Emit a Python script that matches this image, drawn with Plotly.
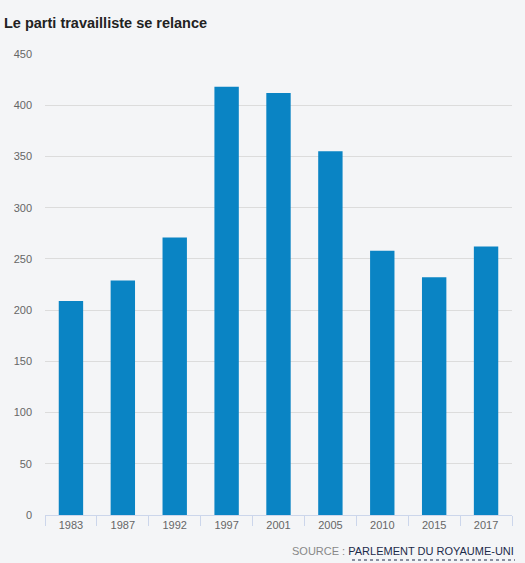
import plotly.graph_objects as go

years = ["1983", "1987", "1992", "1997", "2001", "2005", "2010", "2015", "2017"]
seats = [209, 229, 271, 418, 412, 355, 258, 232, 262]
y_ticks = [0, 50, 100, 150, 200, 250, 300, 350, 400, 450]

W, H = 525, 563
L, R, T, B = 45, 13, 54, 48
pw, ph = W - L - R, H - T - B

def px(xp):
    return (xp - L) / pw

def py(yp):
    return (H - B - yp) / ph

bg = "#f4f5f7"
font = "Liberation Sans, Arial, sans-serif"

fig = go.Figure(go.Bar(
    x=years, y=seats, marker=dict(color="#0a84c4", line=dict(width=0)),
    width=0.47, hoverinfo="x+y",
))

fig.update_layout(
    width=W, height=H,
    margin=dict(l=L, r=R, t=T, b=B, pad=0),
    paper_bgcolor=bg, plot_bgcolor=bg,
    font=dict(family=font, color="#666666", size=11),
    showlegend=False,
    title=dict(text="<b>Le parti travailliste se relance</b>",
               xref="container", yref="container", x=4 / W, xanchor="left",
               y=1 - 23 / H, yanchor="middle",
               font=dict(family=font, size=14.5, color="#222222")),
    xaxis=dict(type="category", showgrid=False, showline=True, linecolor="#ccd6eb",
               linewidth=1, ticks="outside", tickson="boundaries", ticklen=10,
               tickcolor="#ccd6eb", tickfont=dict(size=11, color="#666666"),
               fixedrange=True),
    yaxis=dict(range=[0, 450], tickvals=y_ticks, showgrid=True, gridcolor="#dcdcdc",
               gridwidth=1, zeroline=False, showline=False, ticks="",
               ticklabelstandoff=12, tickfont=dict(size=11, color="#666666"),
               fixedrange=True),
    annotations=[dict(
        text="SOURCE : <span style='color:#1c2b4a'>PARLEMENT DU ROYAUME-UNI</span>",
        xref="paper", yref="paper", x=px(516), y=py(551), xanchor="right",
        yanchor="middle", showarrow=False,
        font=dict(family=font, size=11, color="#888888"))],
    shapes=[dict(type="line", xref="paper", yref="paper",
                 x0=px(352), x1=px(515), y0=py(560), y1=py(560),
                 line=dict(color="#1c2b4a", width=1, dash="dot"))],
)

fig.write_html("out.html", config={"displayModeBar": False},
               post_script="document.body.style.margin='0';document.body.style.background='%s';" % bg)
